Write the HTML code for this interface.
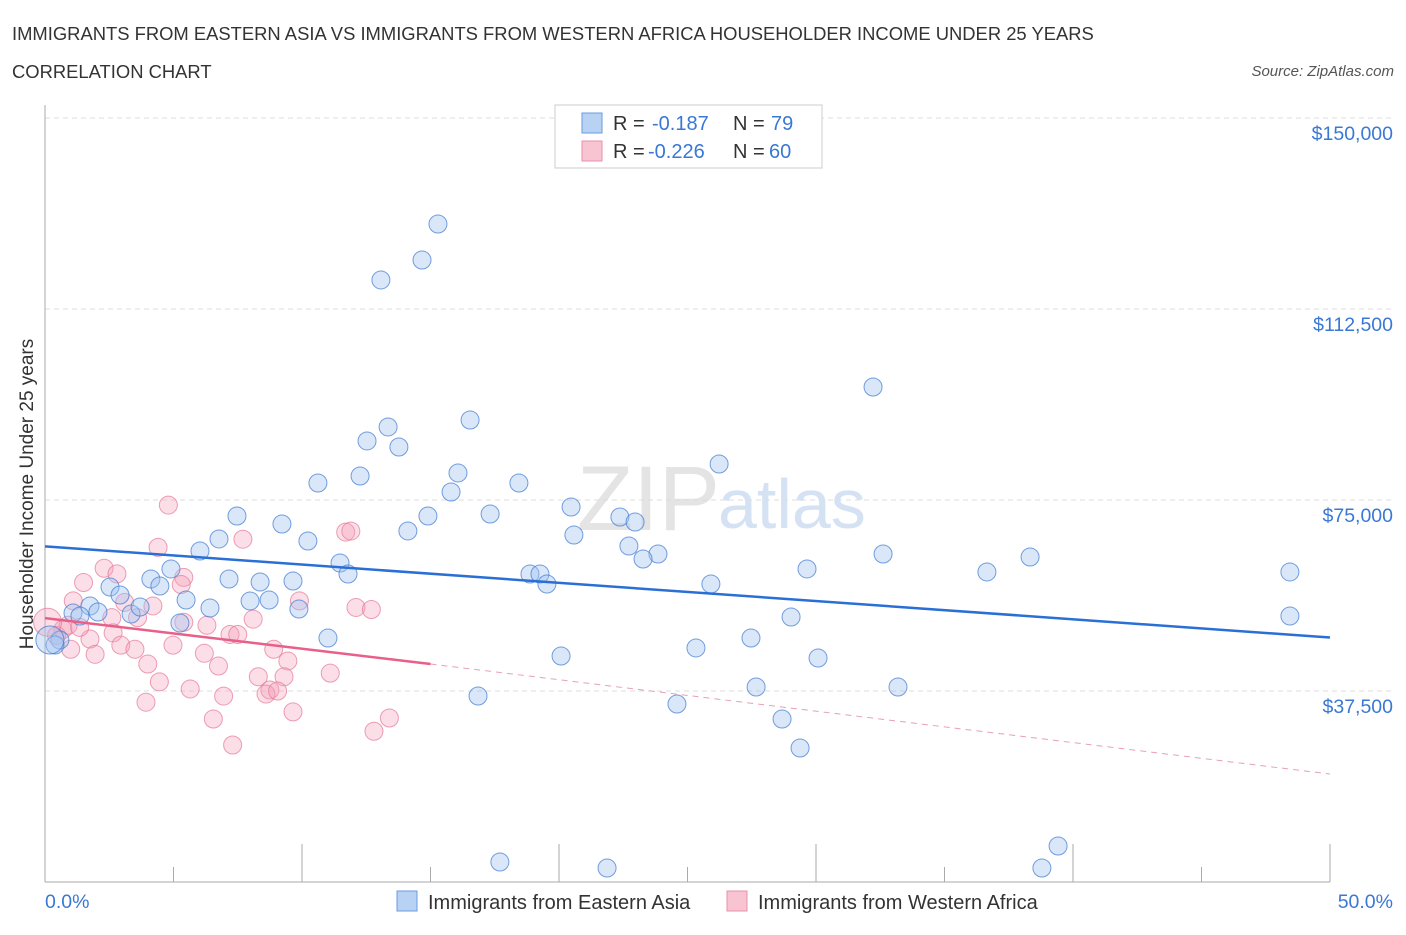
<!DOCTYPE html>
<html><head><meta charset="utf-8"><style>
body{margin:0;background:#fff;font-family:"Liberation Sans",sans-serif;}
svg text{font-family:"Liberation Sans",sans-serif;}
</style></head><body>
<svg id="chart" width="1406" height="930">
<text x="12" y="40" font-size="18.4" fill="#333">IMMIGRANTS FROM EASTERN ASIA VS IMMIGRANTS FROM WESTERN AFRICA HOUSEHOLDER INCOME UNDER 25 YEARS</text>
<text x="12" y="78" font-size="18.4" fill="#333">CORRELATION CHART</text>
<text x="1394" y="76" font-size="15" fill="#555" font-style="italic" text-anchor="end">Source: ZipAtlas.com</text>
<text x="720" y="530" font-size="92" fill="#e4e4e4" font-family="Liberation Serif" text-anchor="end">ZIP</text>
<text x="718" y="528" font-size="70" fill="#d4e2f4">atlas</text>
<g id="grid"></g><g id="axes"></g><g id="marks"></g>
<text transform="translate(33,494) rotate(-90)" font-size="19" fill="#333" text-anchor="middle">Householder Income Under 25 years</text>
<text x="45" y="908" font-size="19.5" fill="#3a78d4">0.0%</text>
<text x="1393" y="908" font-size="19.5" fill="#3a78d4" text-anchor="end">50.0%</text>
<g>
<rect x="555" y="105" width="267" height="63" fill="#fff" stroke="#ccc"/>
<rect x="582" y="113" width="20" height="20" fill="#b8d2f4" stroke="#6a9be0"/>
<rect x="582" y="141" width="20" height="20" fill="#f8c4d2" stroke="#e890a8"/>
<text x="613" y="130" font-size="20" fill="#333">R =</text>
<text x="652" y="130" font-size="20" fill="#3a78d4">-0.187</text>
<text x="733" y="130" font-size="20" fill="#333">N =</text>
<text x="771" y="130" font-size="20" fill="#3a78d4">79</text>
<text x="613" y="158" font-size="20" fill="#333">R =</text>
<text x="648" y="158" font-size="20" fill="#3a78d4">-0.226</text>
<text x="733" y="158" font-size="20" fill="#333">N =</text>
<text x="769" y="158" font-size="20" fill="#3a78d4">60</text>
</g>
<g>
<rect x="397" y="891" width="20" height="20" fill="#b8d2f4" stroke="#6a9be0"/>
<text x="428" y="909" font-size="20" fill="#333">Immigrants from Eastern Asia</text>
<rect x="727" y="891" width="20" height="20" fill="#f8c4d2" stroke="#e890a8"/>
<text x="758" y="909" font-size="20" fill="#333">Immigrants from Western Africa</text>
</g>
</svg>
<script>
const yTicks=[37500,75000,112500,150000];
const yTickLabels=["$37,500","$75,000","$112,500","$150,000"];
const blueX=[15.29,14.67,13.07,32.22,16.54,13.35,12.53,13.77,26.23,16.07,12.26,10.62,18.44,15.80,20.47,17.32,7.47,14.90,22.37,22.96,14.12,9.22,6.77,20.58,10.23,6.03,22.72,23.85,23.27,32.61,38.33,11.48,11.79,4.12,7.16,8.37,9.65,4.90,4.47,18.87,19.26,19.53,25.91,29.65,36.65,48.44,2.53,5.49,6.42,7.98,8.72,9.88,2.92,3.35,3.70,1.75,1.09,2.06,1.36,48.44,29.03,5.25,11.01,27.47,25.33,30.08,20.08,27.67,33.19,16.85,24.59,28.68,29.38,39.42,17.70,21.87,38.79,0.58,0.39,0.19];
const blueY=[129190,122120,118200,97190,90710,89340,86590,85410,82070,80310,79710,78340,78340,76570,73630,72250,71860,71860,71660,70680,68920,70290,67350,68130,66950,64990,65970,64400,63420,64400,63810,62630,60470,59490,59490,58900,59100,61460,58120,60470,60470,58510,58510,61460,60870,60870,57920,55370,53800,55170,55370,53600,56350,52620,53990,54190,52810,53010,52230,52230,52030,50850,47910,47910,45950,43980,44370,38290,38290,36520,34950,32000,26310,7070,3930,2750,2750,47520,46530,47520];
const pinkX=[4.8,4.4,7.7,11.7,11.9,2.3,2.8,5.4,5.3,1.5,3.1,4.2,9.9,12.1,12.7,1.1,2.6,3.6,5.4,6.3,7.2,7.5,8.1,2.65,1.75,2.95,3.5,4.98,6.2,8.9,9.45,1.95,1.0,4.0,6.75,11.1,4.45,5.65,6.95,8.3,9.3,8.75,8.6,9.05,3.93,9.65,6.55,13.4,12.8,7.3,0.7,0.45,0.9,1.35,0.1];
const pinkY=[74000,65700,67300,68700,68900,61600,60500,59800,58400,58800,54900,54200,55200,53900,53500,55200,51900,51900,51000,50400,48600,48600,51600,48900,47700,46500,45700,46500,44900,45700,43400,44700,45700,42800,42400,41000,39300,37900,36500,40300,40300,37700,36900,37500,35300,33400,32000,32200,29600,26900,49600,48400,50400,50000,51000];
const blueTrend=[65900,48000], pinkTrend=[51800,42800,21200];
const NS="http://www.w3.org/2000/svg";
const X0=45,X1=1330,YB=882,YT=118;
const xs=v=>X0+(v/50)*(X1-X0);
const ys=v=>YB-(v/150000)*(YB-YT);
function el(t,a,p){const e=document.createElementNS(NS,t);for(const k in a)e.setAttribute(k,a[k]);p.appendChild(e);return e;}
const grid=document.getElementById('grid'),axes=document.getElementById('axes'),marks=document.getElementById('marks');
yTicks.forEach((v,i)=>{
 const g=el('line',{x1:X0,x2:1394,y1:ys(v),y2:ys(v),stroke:'#ddd','stroke-dasharray':'5,4'},grid);
 
 
 const t=el('text',{x:1393,y:ys(v)+22,'font-size':19.5,fill:'#3a78d4','text-anchor':'end'},grid);
 t.textContent=yTickLabels[i];
 
 
});
const ax=el('line',{x1:X0,x2:X0,y1:105,y2:YB,stroke:'#aaa'},axes);


const bx=el('line',{x1:X0,x2:X1,y1:YB,y2:YB,stroke:'#aaa'},axes);


for(let i=0;i<=10;i++){
 const tk=el('line',{x1:xs(i*5),x2:xs(i*5),y1:YB,y2:YB-(i%2?15:38),stroke:'#aaa'},axes);
 
 
}
pinkX.forEach((x,i)=>{
 const c=el('circle',{cx:xs(x),cy:ys(pinkY[i]),r:i==pinkX.length-1?14:9,fill:'rgba(244,160,185,0.35)',stroke:'rgba(230,120,150,0.7)','stroke-width':1},marks);
 
 
});
blueX.forEach((x,i)=>{
 const c=el('circle',{cx:xs(x),cy:ys(blueY[i]),r:i==blueX.length-1?14:9,fill:'rgba(160,195,240,0.4)',stroke:'rgba(60,120,210,0.7)','stroke-width':1},marks);
 
 
});
const bl=el('line',{x1:xs(0),y1:ys(blueTrend[0]),x2:xs(50),y2:ys(blueTrend[1]),stroke:'#2a6fd6','stroke-width':2.5},marks);


const pl=el('line',{x1:xs(0),y1:ys(pinkTrend[0]),x2:xs(15),y2:ys(pinkTrend[1]),stroke:'#e8608a','stroke-width':2.5},marks);


const pd=el('line',{x1:xs(15),y1:ys(pinkTrend[1]),x2:xs(50),y2:ys(pinkTrend[2]),stroke:'#e8a0b5','stroke-width':1,'stroke-dasharray':'6,5'},marks);


</script>
</body></html>
